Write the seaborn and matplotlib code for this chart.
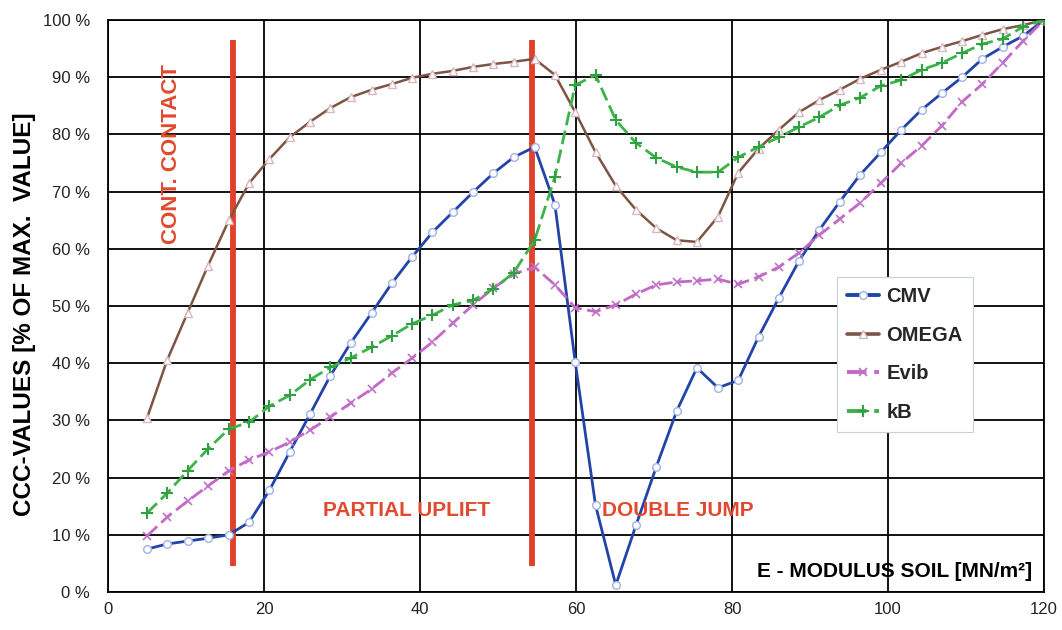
import matplotlib
matplotlib.use("Agg")
import matplotlib.pyplot as plt
from matplotlib.lines import Line2D
import seaborn as sns
import pandas as pd

# ---------------- data ----------------
e_modulus = [5.0, 7.6, 10.2, 12.8, 15.5, 18.1, 20.7, 23.3, 25.9, 28.5,
             31.1, 33.8, 36.4, 39.0, 41.6, 44.2, 46.8, 49.4, 52.0, 54.7,
             57.3, 59.9, 62.5, 65.1, 67.7, 70.3, 72.9, 75.5, 78.2, 80.8,
             83.4, 86.0, 88.6, 91.2, 93.8, 96.4, 99.1, 101.7, 104.3, 106.9,
             109.5, 112.1, 114.7, 117.3, 120.0]

cmv = [7.5, 8.4, 8.9, 9.4, 10.0, 12.2, 17.8, 24.5, 31.1, 37.8,
       43.5, 48.8, 54.0, 58.6, 62.9, 66.4, 69.9, 73.2, 76.0, 77.8,
       67.7, 40.2, 15.2, 1.2, 11.7, 21.9, 31.6, 39.2, 35.7, 37.0,
       44.6, 51.4, 57.9, 63.3, 68.2, 72.9, 76.9, 80.8, 84.3, 87.2,
       90.0, 93.2, 95.3, 97.2, 100.0]

omega = [30.4, 40.6, 48.8, 57.0, 65.0, 71.5, 75.7, 79.5, 82.2, 84.6,
         86.5, 87.8, 88.8, 89.9, 90.6, 91.1, 91.8, 92.3, 92.7, 93.2,
         90.4, 83.9, 76.9, 71.0, 66.8, 63.6, 61.5, 61.2, 65.6, 73.3,
         77.5, 80.8, 83.9, 86.0, 87.8, 89.7, 91.3, 92.7, 94.2, 95.3,
         96.3, 97.4, 98.4, 99.1, 100.0]

evib = [9.8, 13.1, 15.9, 18.5, 21.2, 23.1, 24.5, 26.2, 28.3, 30.6,
        33.0, 35.5, 38.3, 40.9, 43.7, 47.0, 50.2, 53.1, 55.6, 56.8,
        53.7, 49.7, 49.0, 50.2, 52.1, 53.7, 54.2, 54.4, 54.7, 53.8,
        55.1, 56.8, 59.3, 62.4, 65.2, 68.0, 71.5, 75.0, 78.0, 81.5,
        85.7, 88.8, 92.5, 96.3, 100.0]

kb = [13.8, 17.3, 21.2, 25.0, 28.5, 29.7, 32.5, 34.4, 37.1, 39.3,
      40.9, 42.8, 44.8, 46.9, 48.4, 50.2, 51.0, 53.0, 55.8, 61.5,
      72.6, 88.6, 90.4, 82.5, 78.5, 75.9, 74.3, 73.4, 73.4, 76.0,
      77.8, 79.5, 81.3, 83.0, 85.1, 86.4, 88.5, 89.5, 91.3, 92.5,
      94.2, 95.8, 96.7, 98.8, 100.0]

series_names = ["CMV", "OMEGA", "Evib", "kB"]
phase_lines = [16.0, 54.4]
phase_labels = ["CONT. CONTACT", "PARTIAL UPLIFT", "DOUBLE JUMP"]
x_ticks = [0, 20, 40, 60, 80, 100, 120]
y_ticks = [0, 10, 20, 30, 40, 50, 60, 70, 80, 90, 100]

# ---------------- style ----------------
sns.set_style("white")
plt.rcParams["font.family"] = ["Liberation Sans", "DejaVu Sans"]

fig = plt.figure(figsize=(10.62, 6.30), dpi=100)
ax = fig.add_axes([108 / 1062, 1 - 592 / 630, (1044 - 108) / 1062, (592 - 20) / 630])

styles = {
    "CMV":   dict(color="#2244a8", marker="o", mfc="white", mec="#9fb2e6", ms=5.5, ls="-", lw=2.0),
    "OMEGA": dict(color="#7e5444", marker="^", mfc="white", mec="#d8b8c0", ms=5.5, ls="-", lw=1.8),
    "Evib":  dict(color="#c468c8", marker="x", mfc="none", mec="#c070c8", ms=6, ls=(0, (5, 2)), lw=2.0, mew=1.2),
    "kB":    dict(color="#3cb44a", marker="+", mfc="none", mec="#30a040", ms=8, ls=(0, (5, 2)), lw=2.0, mew=1.5),
}
values = {"CMV": cmv, "OMEGA": omega, "Evib": evib, "kB": kb}

ax.set_xlim(0, 120)
ax.set_ylim(0, 100)
ax.set_xticks(x_ticks)
ax.set_yticks(y_ticks)
ax.set_yticklabels([f"{v} %" for v in y_ticks])
ax.grid(True, color="black", lw=1.3)
ax.set_axisbelow(True)
for s in ax.spines.values():
    s.set_color("black")
    s.set_linewidth(1.3)
ax.tick_params(axis="both", direction="out", length=5, width=1.2, color="black",
               labelsize=12, labelcolor="#222222")
ax.tick_params(axis="y", pad=8)
ax.tick_params(axis="x", pad=2)

# red phase lines
for xv in phase_lines:
    ax.plot([xv, xv], [4.5, 96.5], color="#e2402a", lw=4.2, solid_capstyle="butt", zorder=1.5)

# series
handles = []
for name in series_names:
    st = values[name]
    s = styles[name]
    df = pd.DataFrame({"E": e_modulus, "v": st})
    sns.lineplot(data=df, x="E", y="v", ax=ax, color=s["color"], linestyle=s["ls"],
                 linewidth=s["lw"], marker=s["marker"], markerfacecolor=s["mfc"],
                 markeredgecolor=s["mec"], markersize=s["ms"],
                 markeredgewidth=s.get("mew", 1.0), zorder=3)
    handles.append(Line2D([0], [0], color=s["color"], linestyle=s["ls"], linewidth=s["lw"] + 0.8,
                          marker=s["marker"], markerfacecolor=s["mfc"], markeredgecolor=s["mec"],
                          markersize=s["ms"], markeredgewidth=s.get("mew", 1.0), label=name))

ax.set_xlabel("")
ax.set_ylabel("")

leg = ax.legend(handles=handles, loc="upper left", bbox_to_anchor=(0.779, 0.551),
                frameon=True, fancybox=False, framealpha=1, edgecolor="#c8d0d8",
                prop={"weight": "bold", "size": 14.5}, handlelength=1.6,
                labelspacing=0.98, borderpad=0.5, handletextpad=0.35, borderaxespad=0)
leg.get_frame().set_linewidth(0.8)

red = "#e04a2e"
ax.text(8.1, 76.5, phase_labels[0], rotation=90, ha="center", va="center",
        color=red, fontsize=16, fontweight="bold", zorder=4)
ax.text(38.3, 14.2, phase_labels[1], ha="center", va="center",
        color=red, fontsize=15, fontweight="bold", zorder=4)
ax.text(73.0, 14.2, phase_labels[2], ha="center", va="center",
        color=red, fontsize=15, fontweight="bold", zorder=4)

ax.text(118.5, 3.6, "E - MODULUS SOIL [MN/m²]", ha="right", va="center",
        color="black", fontsize=15, fontweight="bold", zorder=4)

fig.text(25 / 1062, 1 - 314 / 630, "CCC-VALUES [% OF MAX.  VALUE]", rotation=90,
         ha="center", va="center", fontsize=17.5, fontweight="bold", color="black")

fig.savefig("out.png", dpi=100)
